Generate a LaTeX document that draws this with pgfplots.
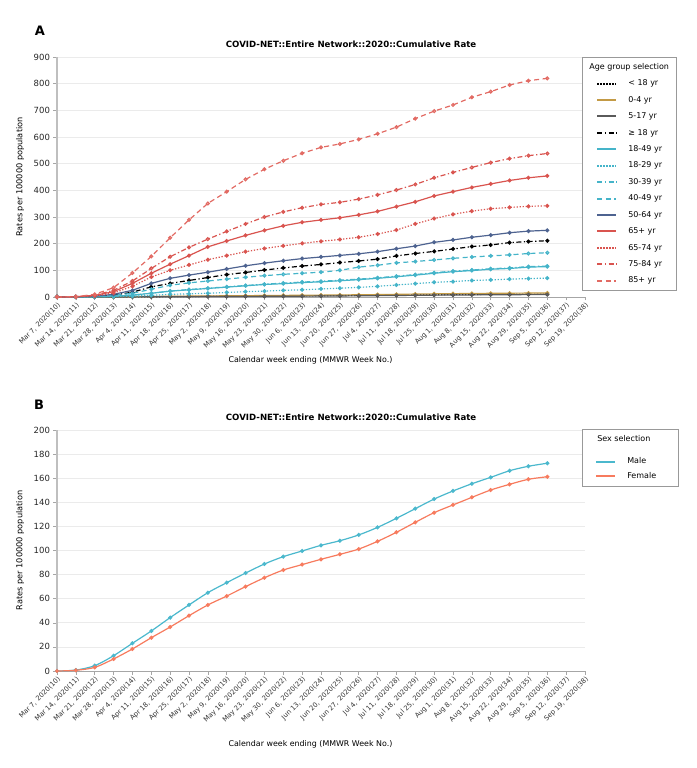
\documentclass[border=0pt]{standalone}
\usepackage{fontspec}
\setmainfont{DejaVu Sans}
\usepackage{pgfplots}
\pgfplotsset{compat=1.18}
\usepackage{pgfplotstable}

\definecolor{cred}{HTML}{D9544F}
\definecolor{cred2}{HTML}{E26A63}
\definecolor{ccyan}{HTML}{45B4C9}
\definecolor{cslate}{HTML}{4E6390}
\definecolor{cgold}{HTML}{C39A45}
\definecolor{cgray}{HTML}{5A5A5A}
\definecolor{cmale}{HTML}{4BB8CD}
\definecolor{cfem}{HTML}{F77B5E}

\pgfplotstableread{
i lt18 a04 a517 ge18 a1849 a1829 a3039 a4049 a5064 a65 a6574 a7584 a85
0 0 0 0 0 0 0 0 0 0 0 0 0 0
1 0 0 0 0.3 0.1 0 0.1 0.2 0.5 0.8 0.5 1 1
2 0.1 0.2 0.1 2 1 0.5 1 1.5 3 6 4 7 10
3 0.3 0.6 0.2 7 3 1.5 3 6 10 20 15 25 35
4 0.6 1.2 0.4 18 7 3 7 14 25 51 40 60 90
5 1 2 0.7 38 14 6 14 29 51 89 75 107 152
6 1.5 2.8 1 51 22 10 22 44 70 123 100 151 222
7 2 3.4 1.3 62 27 12 28 53 82 155 120 186 289
8 2.4 4 1.6 73 32 14 33 60 93 188 140 217 351
9 2.8 4.5 1.9 84 37 17 38 67 105 210 155 246 395
10 3.2 5 2.2 92 42 20 43 74 117 231 170 274 441
11 3.6 5.5 2.5 101 47 22 48 80 127 250 182 300 479
12 4 6 2.8 109 50 25 52 85 136 267 192 319 511
13 4.4 6.5 3.1 116 54 27 56 89 144 280 201 335 539
14 4.8 7 3.5 122 57 30 59 93 150 289 209 347 561
15 5.3 7.6 3.9 129 61 33 63 100 156 297 216 355 574
16 5.9 8.3 4.4 135 65 36 67 112 162 308 224 367 591
17 6.5 9.1 5 142 70 40 72 119 170 321 236 383 612
18 7.2 10 5.6 154 76 45 78 128 181 339 251 401 637
19 7.9 11 6.3 163 82 50 84 133 191 357 274 422 669
20 8.5 11.8 6.9 171 89 55 91 139 205 379 294 447 697
21 9 12.5 7.4 180 95 58 97 145 214 395 310 467 720
22 9.5 13.2 7.9 189 99 62 101 150 224 411 322 486 749
23 9.9 13.8 8.3 195 104 64 106 154 232 424 331 504 770
24 10.3 14.3 8.6 204 107 67 109 158 241 437 336 519 795
25 10.6 14.7 8.9 208 112 69 114 163 247 447 340 530 811
26 10.8 15 9.1 211 114 71 116 166 250 454 342 538 820
}\tabA

\pgfplotstableread{
i male female
0 0 0
1 0.8 0.6
2 4.4 3
3 12.7 10
4 23 18.3
5 33.2 27.6
6 44.3 36.5
7 54.8 45.9
8 65 54.8
9 73.3 62.2
10 81.3 70
11 88.8 77.4
12 94.9 83.8
13 99.6 88.3
14 104.3 92.7
15 108.1 96.8
16 112.9 101.2
17 119.2 107.6
18 126.7 115.1
19 134.7 123.4
20 142.7 131.4
21 149.4 137.8
22 155.4 144.1
23 160.7 150.2
24 166.2 154.9
25 169.9 159.1
26 172.4 161.2
}\tabB

\tikzset{
  mydashed/.style={dash pattern=on 5pt off 3.5pt},
  mydashdot/.style={dash pattern=on 5pt off 2.5pt on 1.3pt off 2.5pt},
  mydotted/.style={dash pattern=on 1.3pt off 1.7pt},
}

\pgfplotsset{
  common/.style={
    scale only axis,
    width=528pt,
    xmin=0, xmax=28,
    axis x line*=bottom,
    axis y line*=left,
    x axis line style={draw=black!35, line width=0.8pt},
    y axis line style={draw=black!25, line width=1.6pt},
    xtick={0,...,28},
    xticklabels={{Mar 7, 2020(10)},{Mar 14, 2020(11)},{Mar 21, 2020(12)},{Mar 28, 2020(13)},{Apr 4, 2020(14)},{Apr 11, 2020(15)},{Apr 18, 2020(16)},{Apr 25, 2020(17)},{May 2, 2020(18)},{May 9, 2020(19)},{May 16, 2020(20)},{May 23, 2020(21)},{May 30, 2020(22)},{Jun 6, 2020(23)},{Jun 13, 2020(24)},{Jun 20, 2020(25)},{Jun 27, 2020(26)},{Jul 4, 2020(27)},{Jul 11, 2020(28)},{Jul 18, 2020(29)},{Jul 25, 2020(30)},{Aug 1, 2020(31)},{Aug 8, 2020(32)},{Aug 15, 2020(33)},{Aug 22, 2020(34)},{Aug 29, 2020(35)},{Sep 5, 2020(36)},{Sep 12, 2020(37)},{Sep 19, 2020(38)}},
    x tick label style={rotate=45, anchor=north east, font=\fontsize{6.8}{7}\selectfont, inner sep=1pt, text=black!80},
    y tick label style={font=\fontsize{8.5}{9}\selectfont, text=black!85},
    /pgf/number format/assume math mode=true,
    tick align=outside,
    major tick length=3.5pt,
    tick style={draw=black!35, line width=0.5pt},
    ymajorgrids,
    grid style={draw=black!8, line width=0.6pt},
    ylabel={Rates per 100000 population},
    ylabel style={font=\fontsize{8.2}{9}\selectfont, at={(axis description cs:-0.07,0.5)}, anchor=center},
    xlabel={Calendar week ending (MMWR Week No.)},
    xlabel style={font=\fontsize{7.9}{9}\selectfont, anchor=center},
    title={COVID-NET::Entire Network::2020::Cumulative Rate},
    title style={font=\fontsize{8.6}{9}\selectfont\bfseries, anchor=center},
    legend cell align=left,
    legend image code/.code={%
      \path[draw=none, fill=none] (-10pt,0pt) -- (19pt,0pt);
      \draw[#1, mark=none, line width=2pt] (0pt,0pt) -- (19pt,0pt);},
    every axis plot/.append style={line width=1.2pt, mark size=1.4pt, mark options={solid}},
    clip=false,
  },
}

\begin{document}
\begin{tikzpicture}
\begin{axis}[common,
  at={(57pt,471pt)}, anchor=south west,
  height=240pt,
  ymin=0, ymax=900, ytick={0,100,...,900},
  xlabel style={at={(axis description cs:0.48,-0.2625)}},
  title style={at={(axis description cs:0.557,1.029)}},
  legend style={at={(axis description cs:0.9943,1)}, anchor=north west,
    draw=black!40, line width=0.6pt, font=\fontsize{8}{9.5}\selectfont,
    row sep=5pt, inner xsep=5pt, inner ysep=4pt, column sep=9pt},
]
\addlegendimage{empty legend}
\addlegendentry{\hspace{-39pt}Age group selection}
\addplot[black, mydotted, mark=*] table[x=i,y=lt18]{\tabA};
\addlegendentry{< 18 yr}
\addplot[cgold, mark=*] table[x=i,y=a04]{\tabA};
\addlegendentry{0-4 yr}
\addplot[cgray, mark=*] table[x=i,y=a517]{\tabA};
\addlegendentry{5-17 yr}
\addplot[black, mydashdot, mark=*] table[x=i,y=ge18]{\tabA};
\addlegendentry{≥ 18 yr}
\addplot[ccyan, mark=*] table[x=i,y=a1849]{\tabA};
\addlegendentry{18-49 yr}
\addplot[ccyan, mydotted, mark=*] table[x=i,y=a1829]{\tabA};
\addlegendentry{18-29 yr}
\addplot[ccyan, mydashdot, mark=*] table[x=i,y=a3039]{\tabA};
\addlegendentry{30-39 yr}
\addplot[ccyan, mydashed, mark=o, mark options={solid, fill=white}] table[x=i,y=a4049]{\tabA};
\addlegendentry{40-49 yr}
\addplot[cslate, mark=*] table[x=i,y=a5064]{\tabA};
\addlegendentry{50-64 yr}
\addplot[cred, mark=*] table[x=i,y=a65]{\tabA};
\addlegendentry{65+ yr}
\addplot[cred, mydotted, mark=*] table[x=i,y=a6574]{\tabA};
\addlegendentry{65-74 yr}
\addplot[cred, mydashdot, mark=o, mark options={solid, fill=white}] table[x=i,y=a7584]{\tabA};
\addlegendentry{75-84 yr}
\addplot[cred2, mydashed, mark=o, mark options={solid, fill=white}] table[x=i,y=a85]{\tabA};
\addlegendentry{85+ yr}
\end{axis}

\begin{axis}[common,
  at={(57pt,97pt)}, anchor=south west,
  height=241pt,
  ymin=0, ymax=200, ytick={0,20,...,200},
  xlabel style={at={(axis description cs:0.48,-0.303)}},
  title style={at={(axis description cs:0.557,1.029)}},
  legend style={at={(axis description cs:0.9943,1.004)}, anchor=north west,
    draw=black!40, line width=0.6pt, font=\fontsize{8}{9.5}\selectfont,
    row sep=3pt, inner xsep=4pt, inner ysep=4pt, column sep=9pt},
]
\addlegendimage{empty legend}
\addlegendentry{\hspace{-30pt}\makebox[75pt][l]{\raisebox{8pt}{Sex selection}}}
\addplot[cmale, smooth, mark=*] table[x=i,y=male]{\tabB};
\addlegendentry{Male}
\addplot[cfem, smooth, mark=*] table[x=i,y=female]{\tabB};
\addlegendentry{Female}
\end{axis}

\node[font=\fontsize{13}{13}\selectfont\bfseries] at (40pt,737pt) {A};
\node[font=\fontsize{13}{13}\selectfont\bfseries] at (39pt,363pt) {B};
\pgfresetboundingbox
\path (0pt,0pt) rectangle (696pt,768pt);
\end{tikzpicture}
\end{document}
